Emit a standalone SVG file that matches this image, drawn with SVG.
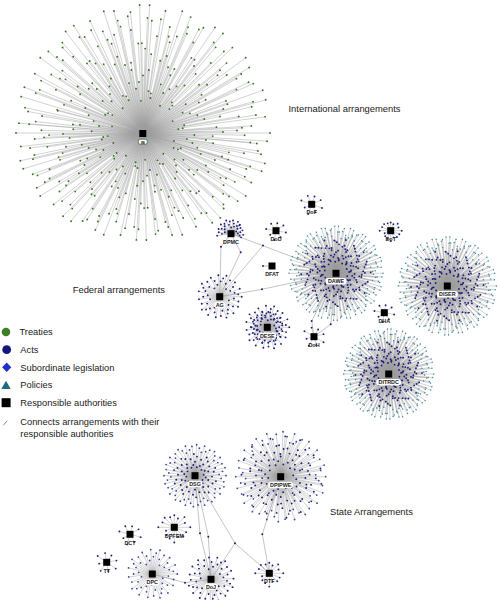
<svg xmlns="http://www.w3.org/2000/svg" width="498" height="600" viewBox="0 0 498 600">
<style>
.ln{fill:none;stroke:#9c9c9c;stroke-width:.45;vector-effect:non-scaling-stroke}
.lk{fill:none;stroke:#9c9c9c;stroke-width:.6}
.dt{fill:none;stroke-linecap:round;vector-effect:non-scaling-stroke}
.gr{stroke:#3a7622;stroke-width:1.9}
.nv{stroke:#20207c;stroke-width:1.9}
.tl{stroke:#3f8a98;stroke-width:1.5}
.bl{stroke:#3c4aa2;stroke-width:1.8}
.sq{fill:#000}
.bx{fill:#fff}
.lb{font-family:"Liberation Sans",Arial,Helvetica,sans-serif;font-weight:bold;font-size:5.4px;fill:#222;text-anchor:middle}
.tx{font-family:"Liberation Sans",Arial,Helvetica,sans-serif;font-size:9.3px;fill:#1a1a1a}
.kd{fill:#20207c}
</style>
<defs>
<path id="aL" class="ln" d="M0 0L100 0M0 0L54.9 2.9M0 0L84.5 8.9M0 0L34.6 5.5M0 0L92.9 19.8M0 0L67.6 18.1M0 0L42.8 13.9M0 0L93.4 35.8M0 0L56.6 25.2M0 0L80.2 40.9M0 0L24.2 14M0 0L65.4 42.5"/>
<path id="aO" class="dt" d="M100 0h0M84.5 8.9h0M92.9 19.8h0M93.4 35.8h0M80.2 40.9h0M65.4 42.5h0"/>
<path id="aI" class="dt" d="M54.9 2.9h0M34.6 5.5h0M67.6 18.1h0M42.8 13.9h0M56.6 25.2h0M24.2 14h0"/>
<path id="bL" class="ln" d="M0 0L80 2.1M0 0L97.7 7.7M0 0L49.6 6.5M0 0L90.5 16.8M0 0L38.9 9.3M0 0L95.9 28.4M0 0L62.2 22M0 0L81.3 33.7M0 0L29.8 14.2M0 0L85.2 46.3M0 0L49.5 30.3M0 0L61 41.9"/>
<path id="bO" class="dt" d="M80 2.1h0M97.7 7.7h0M90.5 16.8h0M95.9 28.4h0M81.3 33.7h0M85.2 46.3h0"/>
<path id="bI" class="dt" d="M49.6 6.5h0M38.9 9.3h0M62.2 22h0M29.8 14.2h0M49.5 30.3h0M61 41.9h0"/>
<path id="sL" class="ln" d="M0 0L100 0M0 0L64.5 8.1M0 0L85.2 21.9M0 0L41.8 16.6M0 0L83.2 45.8M0 0L60.7 44.1M0 0L40.1 37.6M0 0L62.5 75.5M0 0L37.5 59.1M0 0L36.2 76.9"/>
<path id="sD" class="dt" d="M100 0h0M64.5 8.1h0M85.2 21.9h0M41.8 16.6h0M83.2 45.8h0M60.7 44.1h0M40.1 37.6h0M62.5 75.5h0M37.5 59.1h0M36.2 76.9h0"/>
<path id="tL" class="ln" d="M0 0L100 0M0 0L56.6 56.6M0 0L0 95M0 0L-49.5 49.5M0 0L-100 0M0 0L-60.1 -60.1M0 0L0 -75M0 0L63.6 -63.6"/>
<path id="tD" class="dt" d="M100 0h0M56.6 56.6h0M0 95h0M-49.5 49.5h0M-100 0h0M-60.1 -60.1h0M0 -75h0M63.6 -63.6h0"/>
<g id="haL"><use href="#aL"/><use href="#aL" transform="rotate(36)"/><use href="#aL" transform="rotate(72)"/><use href="#aL" transform="rotate(108)"/><use href="#aL" transform="rotate(144)"/></g>
<g id="haI"><use href="#aI"/><use href="#aI" transform="rotate(36)"/><use href="#aI" transform="rotate(72)"/><use href="#aI" transform="rotate(108)"/><use href="#aI" transform="rotate(144)"/></g>
<g id="haO"><use href="#aO"/><use href="#aO" transform="rotate(36)"/><use href="#aO" transform="rotate(72)"/><use href="#aO" transform="rotate(108)"/><use href="#aO" transform="rotate(144)"/></g>
<g id="hbL"><use href="#bL"/><use href="#bL" transform="rotate(36)"/><use href="#bL" transform="rotate(72)"/><use href="#bL" transform="rotate(108)"/><use href="#bL" transform="rotate(144)"/></g>
<g id="hbI"><use href="#bI"/><use href="#bI" transform="rotate(36)"/><use href="#bI" transform="rotate(72)"/><use href="#bI" transform="rotate(108)"/><use href="#bI" transform="rotate(144)"/></g>
<g id="hbO"><use href="#bO"/><use href="#bO" transform="rotate(36)"/><use href="#bO" transform="rotate(72)"/><use href="#bO" transform="rotate(108)"/><use href="#bO" transform="rotate(144)"/></g>
<g id="haD"><use href="#haI"/><use href="#haO"/></g>
<g id="hbD"><use href="#hbI"/><use href="#hbO"/></g>
<g id="raL"><use href="#haL"/><use href="#haL" transform="rotate(180)"/></g>
<g id="raI"><use href="#haI"/><use href="#haI" transform="rotate(180)"/></g>
<g id="raO"><use href="#haO"/><use href="#haO" transform="rotate(180)"/></g>
<g id="rbL"><use href="#hbL"/><use href="#hbL" transform="rotate(180)"/></g>
<g id="rbI"><use href="#hbI"/><use href="#hbI" transform="rotate(180)"/></g>
<g id="rbO"><use href="#hbO"/><use href="#hbO" transform="rotate(180)"/></g>
<g id="rsL"><use href="#sL"/><use href="#sL" transform="rotate(72)"/><use href="#sL" transform="rotate(144)"/><use href="#sL" transform="rotate(216)"/><use href="#sL" transform="rotate(288)"/></g>
<g id="rsD"><use href="#sD"/><use href="#sD" transform="rotate(72)"/><use href="#sD" transform="rotate(144)"/><use href="#sD" transform="rotate(216)"/><use href="#sD" transform="rotate(288)"/></g>
</defs>
<rect width="498" height="600" fill="#fff"/>

<g id="connectors">
<g id="c-IB" transform="translate(143,133)">
<use href="#haL" transform="scale(1.27,1.07)"/>
<use href="#haL" transform="scale(1.27,1.28) rotate(180)"/>
<use href="#hbL" transform="scale(1.27,1.07)"/>
<use href="#hbL" transform="scale(1.27,1.28) rotate(180)"/>
<use href="#haL" transform="scale(1.27,1.07) rotate(20.25) scale(.9)"/>
<use href="#haL" transform="scale(1.27,1.28) rotate(200.25) scale(.9)"/>
</g>
<g id="c-DAWE" transform="translate(336,273.3) scale(.47)"><use href="#raL"/><use href="#rbL"/><use href="#raL" transform="rotate(20.25) scale(.88)"/></g>
<g id="c-DISER" transform="translate(447.3,286) scale(.49)"><use href="#raL"/><use href="#rbL"/><use href="#raL" transform="rotate(20.25) scale(.88)"/></g>
<g id="c-DITRDC" transform="translate(388.7,374) scale(.45)"><use href="#raL"/><use href="#rbL"/><use href="#raL" transform="rotate(20.25) scale(.88)"/></g>
<g id="c-AG" transform="translate(219.7,296.7) scale(.22)"><use href="#rsL"/></g>
<g id="c-DESE" transform="translate(267.3,327.3) scale(.22)"><use href="#rsL"/><use href="#rsL" transform="rotate(36) scale(.72)"/></g>
<g id="c-DPMC" transform="translate(231,233.7) scale(.14)"><use href="#sL" transform="rotate(172)"/><use href="#sL" transform="rotate(250)"/><use href="#sL" transform="rotate(315) scale(.9)"/></g>
<g id="c-DoD" transform="translate(276,230.7) scale(.1)"><use href="#tL" transform="rotate(10)"/></g>
<g id="c-DoF" transform="translate(311.7,204.3) scale(.11)"><use href="#tL" transform="rotate(20)"/></g>
<g id="c-DoT" transform="translate(390.7,230.7) scale(.11)"><use href="#tL"/><use href="#tL" transform="rotate(22.5) scale(.85)"/></g>
<g id="c-DHA" transform="translate(384.3,312.7) scale(.1)"><use href="#tL" transform="rotate(10)"/></g>
<g id="c-DoH" transform="translate(314,336.7) scale(.11)"><use href="#tL" transform="rotate(30)"/></g>
<g id="c-DSG" transform="translate(195,475.7) scale(.31)"><use href="#raL"/></g>
<g id="c-DPIPWE" transform="translate(280.7,476.7) scale(.45)"><use href="#raL"/><use href="#rsL" transform="rotate(10) scale(.92)"/></g>
<g id="c-DPFEM" transform="translate(174.3,527.3) scale(.16)"><use href="#tL"/><use href="#tL" transform="rotate(22.5) scale(.8)"/></g>
<g id="c-DCT" transform="translate(130,534.3) scale(.11)"><use href="#tL" transform="rotate(15)"/></g>
<g id="c-TT" transform="translate(106.7,562.3) scale(.11)"><use href="#tL" transform="rotate(35)"/></g>
<g id="c-DPC" transform="translate(152.3,574) scale(.25)"><use href="#rsL"/></g>
<g id="c-DoJ" transform="translate(211,579.3) scale(.23)"><use href="#rsL" transform="rotate(20)"/></g>
<g id="c-DTF" transform="translate(269.3,573.3) scale(.14)"><use href="#tL"/><use href="#tL" transform="rotate(22.5) scale(.8)"/></g>
<g id="links" class="lk">
<path d="M231 233.7L221 246.7L219.7 296.7"/>
<path d="M231 233.7L240.7 252.3L219.7 296.7"/>
<path d="M231 233.7L336 273.3"/>
<path d="M263 245.5L219.7 296.7"/>
<path d="M219.7 296.7L262 289.3L336 273.3"/>
<path d="M314 336.7L311.7 321L336 273.3"/>
<path d="M314 336.7L330.7 324.3L336 273.3"/>
<path d="M272 266L263 266"/>
<path d="M195 475.7L200 533.3L211 579.3"/>
<path d="M195 475.7L208.3 536.7L211 579.3"/>
<path d="M195 475.7L235 543.3L269.3 573.3"/>
<path d="M235 543.3L211 579.3"/>
<path d="M280.7 476.7L262.3 534.3L269.3 573.3"/>
<path d="M152.3 574L185 582.7L211 579.3"/>
</g>
</g>

<g id="arrangements">
<g id="IB-arrangements" class="gr" transform="translate(143,133)">
<use href="#haD" transform="scale(1.27,1.07)"/>
<use href="#haD" transform="scale(1.27,1.28) rotate(180)"/>
<use href="#hbD" transform="scale(1.27,1.07)"/>
<use href="#hbD" transform="scale(1.27,1.28) rotate(180)"/>
<use href="#haD" transform="scale(1.27,1.07) rotate(20.25) scale(.9)"/>
<use href="#haD" transform="scale(1.27,1.28) rotate(200.25) scale(.9)"/>
</g>
<g id="DAWE-arrangements" transform="translate(336,273.3) scale(.47)">
<g class="nv"><use href="#raI"/><use href="#rbI"/><use href="#raI" transform="rotate(20.25) scale(.88)"/></g>
<g class="tl"><use href="#raO"/><use href="#rbO"/><use href="#raO" transform="rotate(20.25) scale(.88)"/></g>
</g>
<g id="DISER-arrangements" transform="translate(447.3,286) scale(.49)">
<g class="nv"><use href="#raI"/><use href="#rbI"/><use href="#raI" transform="rotate(20.25) scale(.88)"/></g>
<g class="tl"><use href="#raO"/><use href="#rbO"/><use href="#raO" transform="rotate(20.25) scale(.88)"/></g>
</g>
<g id="DITRDC-arrangements" transform="translate(388.7,374) scale(.45)">
<g class="nv"><use href="#raI"/><use href="#rbI"/><use href="#raI" transform="rotate(20.25) scale(.88)"/></g>
<g class="tl"><use href="#raO"/><use href="#rbO"/><use href="#raO" transform="rotate(20.25) scale(.88)"/></g>
</g>
<g id="AG-arrangements" class="nv" transform="translate(219.7,296.7) scale(.22)"><use href="#rsD"/></g>
<g id="DESE-arrangements" class="nv" transform="translate(267.3,327.3) scale(.22)"><use href="#rsD"/><use href="#rsD" transform="rotate(36) scale(.72)"/></g>
<g id="DPMC-arrangements" class="nv" transform="translate(231,233.7) scale(.14)"><use href="#sD" transform="rotate(172)"/><use href="#sD" transform="rotate(250)"/><use href="#sD" transform="rotate(315) scale(.9)"/></g>
<g id="DoD-arrangements" class="nv" transform="translate(276,230.7) scale(.1)"><use href="#tD" transform="rotate(10)"/></g>
<g id="DoF-arrangements" class="nv" transform="translate(311.7,204.3) scale(.11)"><use href="#tD" transform="rotate(20)"/></g>
<g id="DoT-arrangements" class="nv" transform="translate(390.7,230.7) scale(.11)"><use href="#tD"/><use href="#tD" transform="rotate(22.5) scale(.85)"/></g>
<g id="DHA-arrangements" class="nv" transform="translate(384.3,312.7) scale(.1)"><use href="#tD" transform="rotate(10)"/></g>
<g id="DoH-arrangements" class="nv" transform="translate(314,336.7) scale(.11)"><use href="#tD" transform="rotate(30)"/></g>
<g id="DSG-arrangements" transform="translate(195,475.7) scale(.31)"><g class="nv"><use href="#raI"/></g><g class="bl"><use href="#raO"/></g></g>
<g id="DPIPWE-arrangements" transform="translate(280.7,476.7) scale(.45)"><g class="nv"><use href="#raI"/><use href="#rsD" transform="rotate(10) scale(.92)"/></g><g class="bl"><use href="#raO"/></g></g>
<g id="DPFEM-arrangements" class="nv" transform="translate(174.3,527.3) scale(.16)"><use href="#tD"/><use href="#tD" transform="rotate(22.5) scale(.8)"/></g>
<g id="DCT-arrangements" class="nv" transform="translate(130,534.3) scale(.11)"><use href="#tD" transform="rotate(15)"/></g>
<g id="TT-arrangements" class="nv" transform="translate(106.7,562.3) scale(.11)"><use href="#tD" transform="rotate(35)"/></g>
<g id="DPC-arrangements" class="bl" transform="translate(152.3,574) scale(.25)"><use href="#rsD"/></g>
<g id="DoJ-arrangements" class="nv" transform="translate(211,579.3) scale(.23)"><use href="#rsD" transform="rotate(20)"/></g>
<g id="DTF-arrangements" class="nv" transform="translate(269.3,573.3) scale(.14)"><use href="#tD"/><use href="#tD" transform="rotate(22.5) scale(.8)"/></g>
<g id="shared-arrangements" class="kd">
<circle cx="221" cy="246.7" r="1"/><circle cx="240.7" cy="252.3" r="1"/><circle cx="263" cy="245.5" r="1"/><circle cx="262" cy="289.3" r="1"/>
<circle cx="311.7" cy="321" r="1"/><circle cx="330.7" cy="324.3" r="1"/><circle cx="263" cy="266" r="1"/>
<circle cx="200" cy="533.3" r="1"/><circle cx="208.3" cy="536.7" r="1"/><circle cx="235" cy="543.3" r="1"/><circle cx="262.3" cy="534.3" r="1"/><circle cx="185" cy="582.7" r="1"/>
</g>
</g>

<g id="IB"><rect class="sq" x="139.3" y="130" width="7" height="7"/><rect x="138.3" y="139.3" width="9" height="5" rx="2.2" fill="#fff" stroke="#222" stroke-width=".5"/><text class="lb" x="142.8" y="143.5" style="font-size:4px">IB</text></g>
<g id="DAWE"><rect class="sq" x="332.5" y="269.8" width="7" height="7"/><rect class="bx" x="325.5" y="278" width="21" height="6.4" rx="3"/><text class="lb" x="336" y="283.2">DAWE</text></g>
<g id="DISER"><rect class="sq" x="443.8" y="282.5" width="7" height="7"/><rect class="bx" x="436.8" y="291" width="21" height="6.4" rx="3"/><text class="lb" x="447.3" y="296.2">DISER</text></g>
<g id="DITRDC"><rect class="sq" x="385.2" y="370.5" width="7" height="7"/><rect class="bx" x="376.2" y="379" width="25" height="6.4" rx="3"/><text class="lb" x="388.7" y="384.2">DITRDC</text></g>
<g id="DPMC"><rect class="sq" x="227.5" y="230.2" width="7" height="7"/><text class="lb" x="231" y="243.6">DPMC</text></g>
<g id="DoD"><rect class="sq" x="272.5" y="227.2" width="7" height="7"/><text class="lb" x="276" y="240.6">DoD</text></g>
<g id="DFAT"><rect class="sq" x="268.5" y="262.5" width="7" height="7"/><text class="lb" x="272" y="275.9">DFAT</text></g>
<g id="DoF"><rect class="sq" x="308.2" y="200.8" width="7" height="7"/><text class="lb" x="311.7" y="214.2">DoF</text></g>
<g id="DoT"><rect class="sq" x="387.2" y="227.2" width="7" height="7"/><text class="lb" x="390.7" y="240.6">DoT</text></g>
<g id="DHA"><rect class="sq" x="380.8" y="309.2" width="7" height="7"/><text class="lb" x="384.3" y="322.9">DHA</text></g>
<g id="AG"><rect class="sq" x="216.2" y="293.2" width="7" height="7"/><rect class="bx" x="214.2" y="301.8" width="11" height="6.4" rx="3"/><text class="lb" x="219.7" y="306.9">AG</text></g>
<g id="DESE"><rect class="sq" x="263.8" y="323.8" width="7" height="7"/><rect class="bx" x="258.3" y="332.4" width="18" height="6.4" rx="3"/><text class="lb" x="267.3" y="337.6">DESE</text></g>
<g id="DoH"><rect class="sq" x="310.5" y="333.2" width="7" height="7"/><text class="lb" x="314" y="346.9">DoH</text></g>
<g id="DSG"><rect class="sq" x="191.5" y="472.2" width="7" height="7"/><rect class="bx" x="187.5" y="480.8" width="15" height="6.4" rx="3"/><text class="lb" x="195" y="486">DSG</text></g>
<g id="DPIPWE"><rect class="sq" x="277.2" y="473.2" width="7" height="7"/><rect class="bx" x="268.2" y="481.8" width="25" height="6.4" rx="3"/><text class="lb" x="280.7" y="487">DPIPWE</text></g>
<g id="DPFEM"><rect class="sq" x="170.8" y="523.8" width="7" height="7"/><text class="lb" x="174.3" y="537.9">DPFEM</text></g>
<g id="DCT"><rect class="sq" x="126.5" y="530.8" width="7" height="7"/><text class="lb" x="130" y="544.6">DCT</text></g>
<g id="TT"><rect class="sq" x="103.2" y="558.8" width="7" height="7"/><text class="lb" x="106.7" y="572.6">TT</text></g>
<g id="DPC"><rect class="sq" x="148.8" y="570.5" width="7" height="7"/><rect class="bx" x="145.3" y="579.2" width="14" height="6.4" rx="3"/><text class="lb" x="152.3" y="584.4">DPC</text></g>
<g id="DoJ"><rect class="sq" x="207.5" y="575.8" width="7" height="7"/><rect class="bx" x="204.5" y="583.4" width="13" height="6.4" rx="3"/><text class="lb" x="211" y="588.6">DoJ</text></g>
<g id="DTF"><rect class="sq" x="265.8" y="569.8" width="7" height="7"/><text class="lb" x="269.3" y="582.6">DTF</text></g>

<g id="region-labels" class="tx" style="font-size:9.4px">
<text x="288.5" y="111.5">International arrangements</text>
<text x="72.7" y="293">Federal arrangements</text>
<text x="330" y="515">State Arrangements</text>
</g>

<g id="legend" class="tx">
<circle cx="6" cy="332" r="4.3" fill="#3f7f27"/>
<text x="19.5" y="335.3">Treaties</text>
<circle cx="6.7" cy="349.7" r="4.4" fill="#16167a"/>
<text x="20.3" y="352.8">Acts</text>
<polygon points="6.7,362.6 11.3,367.3 6.7,372 2.1,367.3" fill="#2130c8"/>
<text x="20.3" y="370.5">Subordinate legislation</text>
<polygon points="6,380.8 10.7,389 1.3,389" fill="#1f6a80"/>
<text x="20.3" y="388.4">Policies</text>
<rect x="1.6" y="398.2" width="9" height="9" fill="#000"/>
<text x="20.3" y="406">Responsible authorities</text>
<line x1="3.3" y1="425.3" x2="7.3" y2="420.7" stroke="#444" stroke-width=".6"/>
<text x="20.3" y="425">Connects arrangements with their</text>
<text x="20.3" y="436.5">responsible authorities</text>
</g>
</svg>
